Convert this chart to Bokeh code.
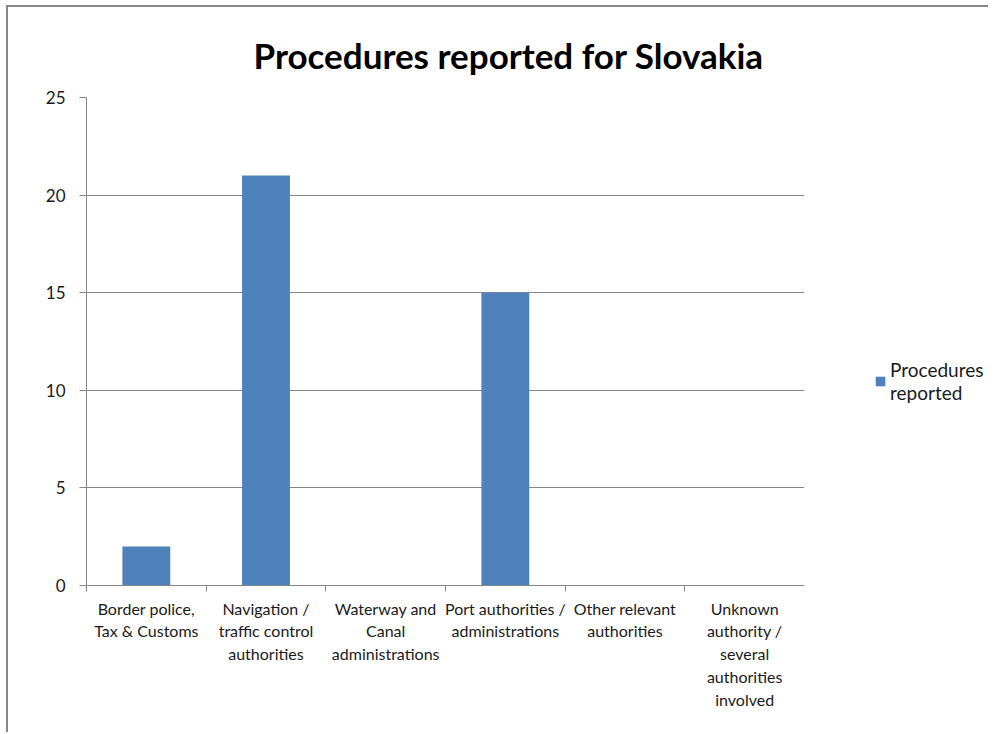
from bokeh.plotting import figure
from bokeh.layouts import row
from bokeh.models import (ColumnDataSource, FactorRange, Range1d, LinearAxis, CategoricalAxis,
                          FixedTicker, Legend, LegendItem, Title, CustomJSTickFormatter)
from bokeh.embed import file_html
from bokeh.resources import INLINE

# ---- data ----
categories = [
    "Border police, Tax & Customs",
    "Navigation / traffic control authorities",
    "Waterway and Canal administrations",
    "Port authorities / administrations",
    "Other relevant authorities",
    "Unknown authority / several authorities involved",
]
procedures = [2, 21, 0, 15, 0, 0]
y_ticks = [0, 5, 10, 15, 20, 25]
series_name = "Procedures reported"
title_text = "Procedures reported for Slovakia"

# wrapped display labels (as the chart wraps them)
wrapped_labels = [
    "Border police,\nTax & Customs",
    "Navigation /\ntraffic control\nauthorities",
    "Waterway and\nCanal\nadministrations",
    "Port authorities /\nadministrations",
    "Other relevant\nauthorities",
    "Unknown\nauthority /\nseveral\nauthorities\ninvolved",
]

FONT = "Lato"
GRAY = "#868686"
TEXT = "#1a1a1a"
BLUE = "#4F81BD"

src = ColumnDataSource(data=dict(cat=categories, val=procedures))

H = 725
p = figure(
    width=796, height=H,
    x_range=FactorRange(factors=categories, range_padding=0),
    y_range=Range1d(0, 25),
    x_axis_location=None,
    output_backend="svg", toolbar_location=None,
    min_border_left=78, min_border_right=0, min_border_top=90, min_border_bottom=147,
)
p.outline_line_color = None
p.background_fill_color = "white"
p.border_fill_color = "white"

bars = p.vbar(x="cat", top="val", width=0.4, source=src, fill_color=BLUE, line_color=None)

# title
p.title = Title(text=title_text, align="left", text_font=FONT, text_font_style="bold",
                text_font_size="35px", text_color="black", offset=167, standoff=44)

# y axis
ya = p.yaxis[0]
ya.ticker = FixedTicker(ticks=y_ticks)
ya.axis_line_color = GRAY
ya.major_tick_line_color = GRAY
ya.major_tick_out = 7
ya.major_tick_in = 0
ya.minor_tick_line_color = None
ya.major_label_standoff = 14
ya.major_label_text_font = FONT
ya.major_label_text_font_size = "17px"
ya.major_label_text_color = TEXT

p.ygrid.ticker = FixedTicker(ticks=y_ticks)
p.ygrid.grid_line_color = GRAY
p.xgrid.visible = False

# x axis: boundary ticks (no labels)
tick_axis = LinearAxis(
    ticker=FixedTicker(ticks=list(range(len(categories) + 1))),
    formatter=CustomJSTickFormatter(code="return ''"),
    axis_line_color=GRAY, major_tick_line_color=GRAY,
    major_tick_out=6, major_tick_in=0, minor_tick_line_color=None,
    major_label_standoff=0,
)
p.add_layout(tick_axis, "below")

cat_axis = CategoricalAxis(
    formatter=CustomJSTickFormatter(
        args=dict(keys=categories, vals=wrapped_labels),
        code="const i = keys.indexOf(tick); return i >= 0 ? vals[i] : tick;",
    ),
    axis_line_color=None, major_tick_line_color=None,
    major_tick_out=0, major_tick_in=0,
    major_label_standoff=7,
    major_label_text_font=FONT,
    major_label_text_font_size="16px",
    major_label_text_color=TEXT,
    major_label_text_line_height=1.2,
)
p.add_layout(cat_axis, "below")

# legend panel (separate small figure to the right of the plot area)
p2 = figure(
    width=184, height=H,
    x_range=FactorRange(factors=categories), y_range=Range1d(0, 25),
    x_axis_location=None, y_axis_location=None,
    output_backend="svg", toolbar_location=None,
    min_border_left=0, min_border_right=0, min_border_top=0, min_border_bottom=0,
)
p2.outline_line_color = None
p2.xgrid.visible = False
p2.ygrid.visible = False
bars2 = p2.vbar(x="cat", top="val", width=0.4, source=src, fill_color=BLUE, line_color=None,
                visible=False)

legend = Legend(
    items=[LegendItem(label=series_name.replace(" ", "\n"), renderers=[bars2])],
    location=(70, 181),
    border_line_color=None, background_fill_alpha=0,
    inactive_fill_alpha=0,
    padding=0, margin=0,
    glyph_width=12, glyph_height=12, label_standoff=4,
    label_text_font=FONT, label_text_font_size="19px", label_text_color=TEXT,
)
p2.add_layout(legend, "center")

layout = row(p, p2, spacing=0)
layout.styles = {"border-top": "2px solid #878787", "border-left": "2px solid #878787",
                 "margin-left": "6px", "margin-top": "5px"}

open("out.html", "w").write(file_html(layout, INLINE))
